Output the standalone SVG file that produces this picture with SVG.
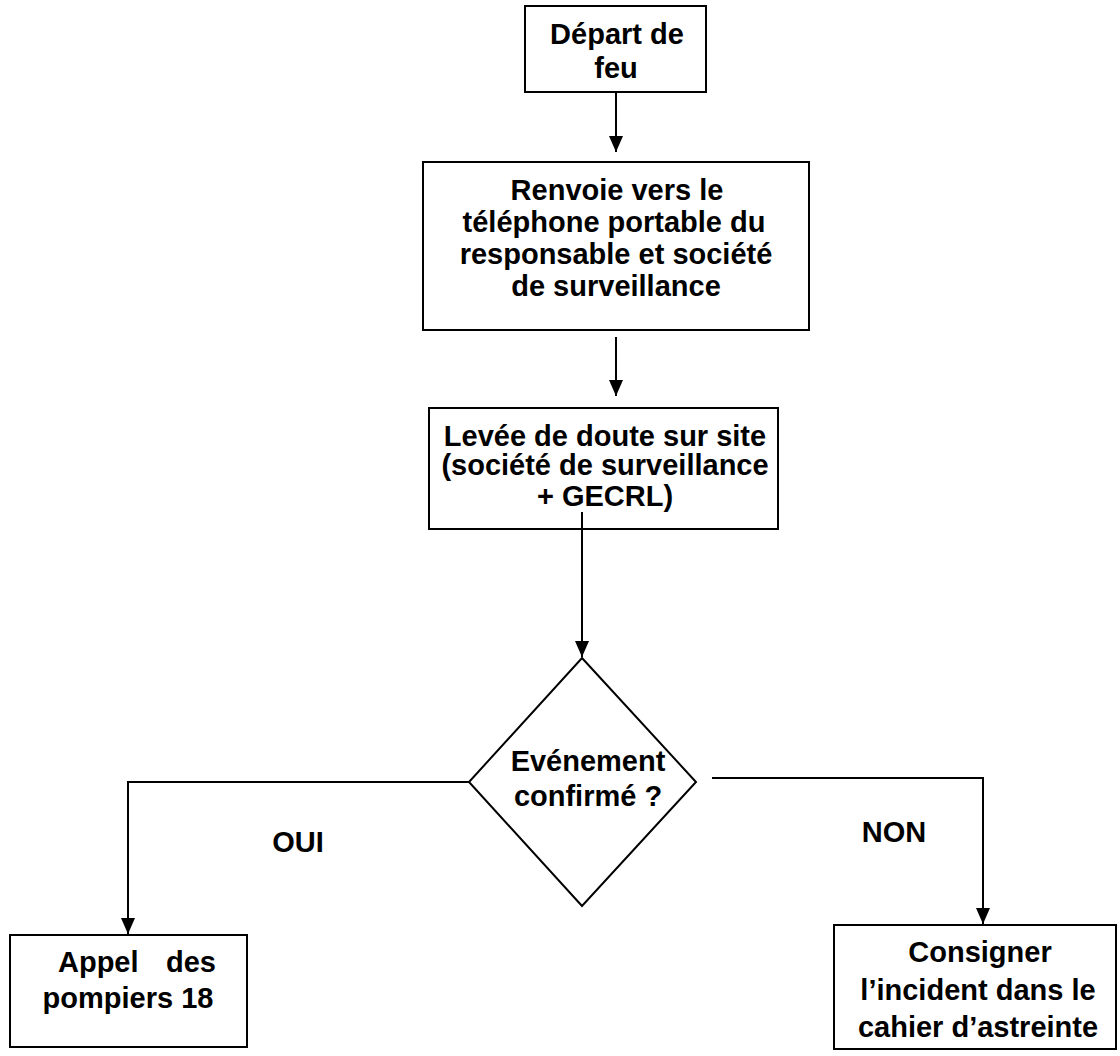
<svg xmlns="http://www.w3.org/2000/svg" width="1120" height="1056" viewBox="0 0 1120 1056">
<style>
.box{fill:#fff;stroke:#000;stroke-width:2}
.t{font-family:"Liberation Sans",Arial,sans-serif;font-weight:bold;font-size:29px;fill:#000;text-anchor:middle}
.ln{fill:none;stroke:#000;stroke-width:2}
</style>
<defs>
<marker id="ah" viewBox="0 0 16 14" refX="16" refY="7" markerWidth="16" markerHeight="14" markerUnits="userSpaceOnUse" orient="auto">
<path d="M0,0 L16,7 L0,14 Z" fill="#000"/>
</marker>
</defs>
<g id="n1"><rect class="box" x="525" y="6" width="181" height="86"/>
<text class="t" x="617" y="44">Départ de</text><text class="t" x="616" y="78">feu</text></g>
<g id="n2"><rect class="box" x="423" y="162" width="386" height="168"/>
<text class="t" x="617" y="200">Renvoie vers le</text>
<text class="t" x="614" y="232">téléphone portable du</text>
<text class="t" x="616" y="264">responsable et société</text>
<text class="t" x="616" y="296">de surveillance</text></g>
<g id="n3"><rect class="box" x="429" y="408" width="349" height="121"/>
<text class="t" x="605" y="446">Levée de doute sur site</text>
<text class="t" x="605" y="475">(société de surveillance</text>
<text class="t" x="605" y="506">+ GECRL)</text></g>
<g id="n4"><polygon class="box" points="582,658 696,782 582,906 469,782"/>
<text class="t" x="588" y="771">Evénement</text>
<text class="t" x="588" y="806">confirmé ?</text></g>
<g id="n5"><rect class="box" x="10" y="935" width="237" height="112"/>
<text class="t" x="58" y="972" style="text-anchor:start">Appel</text>
<text class="t" x="216" y="972" style="text-anchor:end">des</text>
<text class="t" x="128" y="1008">pompiers 18</text></g>
<g id="n6"><rect class="box" x="834" y="925" width="282" height="124"/>
<text class="t" x="980" y="962">Consigner</text>
<text class="t" x="978" y="1000">l’incident dans le</text>
<text class="t" x="978" y="1037">cahier d’astreinte</text></g>
<g id="connectors">
<path class="ln" d="M616,92 V152" marker-end="url(#ah)"/>
<path class="ln" d="M616,337 V396" marker-end="url(#ah)"/>
<path class="ln" d="M582,512 V657" marker-end="url(#ah)"/>
<path class="ln" d="M469,782 H128 V934" marker-end="url(#ah)"/>
<path class="ln" d="M712,778 H983 V924" marker-end="url(#ah)"/>
<text class="t" x="298" y="852">OUI</text>
<text class="t" x="894" y="842">NON</text>
</g>
</svg>
